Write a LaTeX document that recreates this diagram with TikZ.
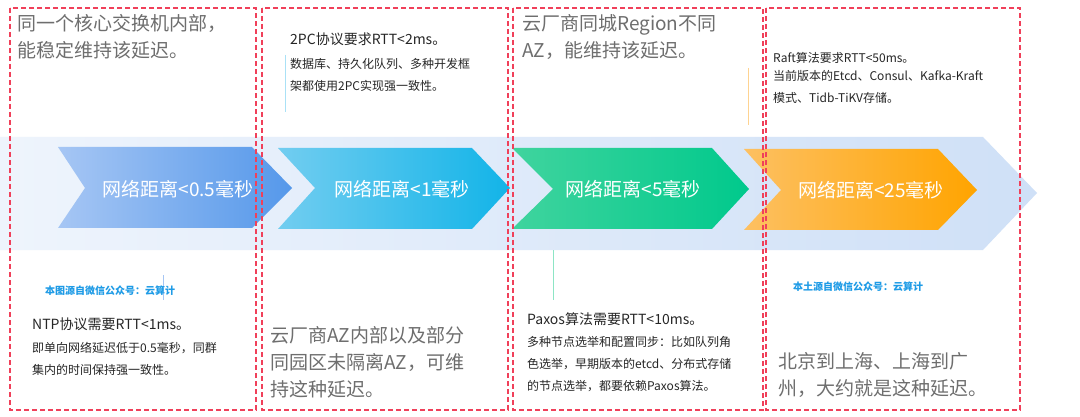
\documentclass[tikz,border=0pt]{standalone}
\usepackage{fontspec}
\setmainfont{Noto Sans CJK SC}
\usetikzlibrary{shadows.blur}
\definecolor{gtxt}{HTML}{6E6E6E}
\definecolor{band}{HTML}{CFE0F7}
\definecolor{redd}{HTML}{F0405A}
\definecolor{linkb}{HTML}{1E9BE6}
\definecolor{a1}{HTML}{A6C6F4}\definecolor{a2}{HTML}{5598EA}
\definecolor{b1}{HTML}{72CDF0}\definecolor{b2}{HTML}{12B4E8}
\definecolor{g1}{HTML}{40D49E}\definecolor{g2}{HTML}{00C98C}
\definecolor{o1}{HTML}{FDC062}\definecolor{o2}{HTML}{FFA400}
\tikzset{x=1pt,y=-1pt,
 box/.style={draw=redd,dash pattern=on 5pt off 3pt,line width=1.2pt},
 big/.style={anchor=north west,align=left,text=gtxt,font=\fontsize{19}{27}\selectfont,inner sep=0},
 sm/.style={anchor=north west,align=left,text=black!85,font=\fontsize{12}{22}\selectfont,inner sep=0},
 hd/.style={anchor=north west,text=black!85,font=\fontsize{14}{18}\selectfont,inner sep=0},
 src/.style={anchor=north west,text=linkb,font=\bfseries\fontsize{10}{12}\selectfont,inner sep=0},
 lab/.style={text=white,font=\fontsize{19}{20}\selectfont},
 tick/.style={line width=1pt}}
\begin{document}
\begin{tikzpicture}
\useasboundingbox (0,0) rectangle (1080,417);
\fill[white] (0,0) rectangle (1080,417);
% band
\shade[left color=band!35,right color=band] (0,137) -- (983,137) -- (1037,193) -- (983,250) -- (0,250) -- cycle;
% chevrons
\shade[left color=a1,right color=a2] (58,147) -- (252,147) -- (292,188) -- (252,228) -- (58,228) -- (85,188) -- cycle;
\shade[left color=b1,right color=b2] (278,148) -- (472,148) -- (510,188) -- (472,229) -- (278,229) -- (315,188) -- cycle;
\shade[left color=g1,right color=g2] (512,148) -- (712,148) -- (749,189) -- (712,229) -- (512,229) -- (553,189) -- cycle;
\shade[left color=o1,right color=o2] (744,149) -- (938,149) -- (977,190) -- (938,230) -- (744,230) -- (781,190) -- cycle;
\node[lab] (c1) at (178,189) {网络距离<0.5毫秒};
\node[lab] (c2) at (402,189) {网络距离<1毫秒};
\node[lab] (c3) at (633,189) {网络距离<5毫秒};
\node[lab] (c4) at (871,190) {网络距离<25毫秒};
% ticks
\draw[tick,a1] (163,275) -- (163,300);
\draw[tick,b1!60] (285,55) -- (285,112);
\draw[tick,g1!60] (553,250) -- (553,300);
\draw[tick,o1!70] (748,68) -- (748,125);
% boxes
\draw[box] (10,8) rectangle (256,410);
\draw[box] (262,8) rectangle (508,410);
\draw[box] (513,8) rectangle (763,410);
\draw[box] (766,8) rectangle (1020,410);
% texts
\node[big] (t1) at (17,14) {同一个核心交换机内部，\\能稳定维持该延迟。};
\node[hd] (t2) at (290,33) {2PC协议要求RTT<2ms。};
\node[sm] (t2b) at (290,58) {数据库、持久化队列、多种开发框\\架都使用2PC实现强一致性。};
\node[big] (t3) at (522,14) {云厂商同城Region不同\\AZ，能维持该延迟。};
\node[hd,font=\fontsize{12}{14}\selectfont] (t4) at (773,52) {Raft算法要求RTT<50ms。};
\node[sm] (t4b) at (773,70) {当前版本的Etcd、Consul、Kafka-Kraft\\模式、Tidb-TiKV存储。};
\node[src] (s1) at (45,286) {本图源自微信公众号：云算计};
\node[hd] (b1) at (32,318) {NTP协议需要RTT<1ms。};
\node[sm] (b1b) at (32,342) {即单向网络延迟低于0.5毫秒，同群\\集内的时间保持强一致性。};
\node[big] (b2) at (270,326) {云厂商AZ内部以及部分\\同园区未隔离AZ，可维\\持这种延迟。};
\node[hd] (b3) at (527,312) {Paxos算法需要RTT<10ms。};
\node[sm] (b3b) at (527,336) {多种节点选举和配置同步：比如队列角\\色选举，早期版本的etcd、分布式存储\\的节点选举，都要依赖Paxos算法。};
\node[src] (s4) at (793,282) {本土源自微信公众号：云算计};
\node[big] (b4) at (778,352) {北京到上海、上海到广\\州，大约就是这种延迟。};
\end{tikzpicture}
\end{document}
